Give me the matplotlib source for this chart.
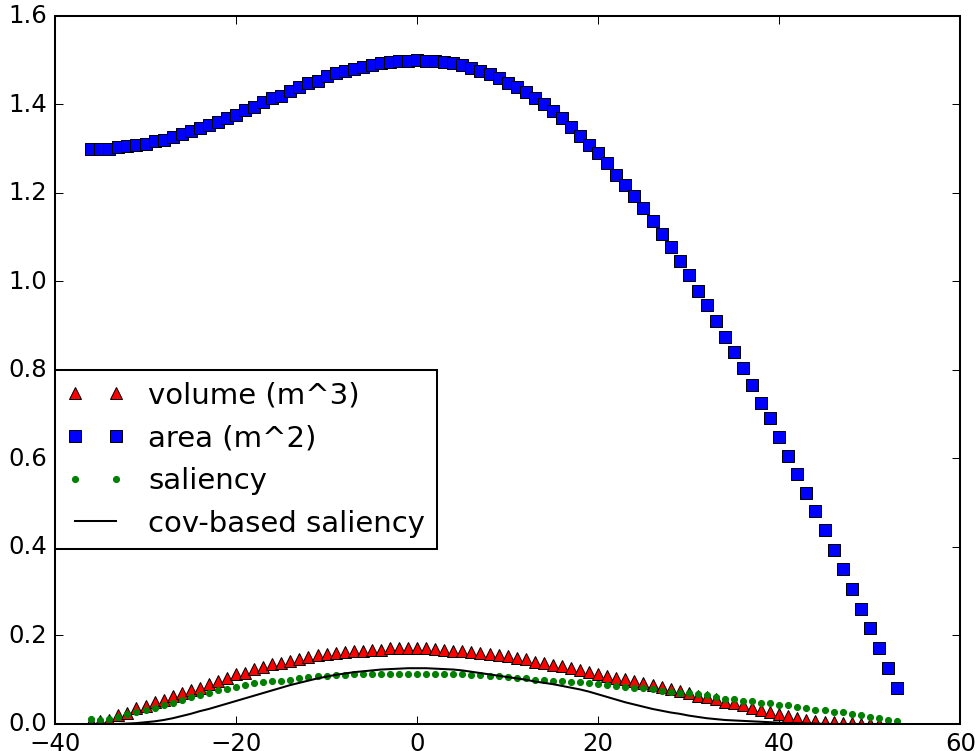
import matplotlib
matplotlib.use("Agg")
import matplotlib.pyplot as plt
import numpy as np

plt.style.use("classic")

x = list(range(-36, 54))

volume = [0.004, 0.006, 0.010, 0.020, 0.025, 0.035, 0.041, 0.050, 0.055, 0.064,
          0.070, 0.076, 0.082, 0.091, 0.097, 0.103, 0.112, 0.116, 0.124, 0.128,
          0.135, 0.138, 0.142, 0.147, 0.152, 0.156, 0.159, 0.161, 0.163, 0.165,
          0.166, 0.168, 0.168, 0.172, 0.172, 0.172, 0.172, 0.172, 0.169, 0.168,
          0.166, 0.165, 0.163, 0.161, 0.159, 0.156, 0.153, 0.150, 0.146, 0.140,
          0.138, 0.134, 0.130, 0.127, 0.121, 0.118, 0.114, 0.109, 0.105, 0.101,
          0.097, 0.093, 0.088, 0.084, 0.078, 0.074, 0.069, 0.063, 0.060, 0.056,
          0.050, 0.047, 0.043, 0.037, 0.032, 0.027, 0.022, 0.017, 0.013, 0.010,
          0.007, 0.005, 0.004, 0.003, 0.002, 0.001, 0.001, 0.000, 0.000, 0.000]

area = [1.300, 1.300, 1.300, 1.303, 1.305, 1.307, 1.311, 1.316, 1.320, 1.326,
        1.333, 1.339, 1.346, 1.352, 1.361, 1.369, 1.376, 1.388, 1.394, 1.404,
        1.414, 1.419, 1.431, 1.440, 1.448, 1.453, 1.463, 1.470, 1.476, 1.479,
        1.485, 1.489, 1.494, 1.495, 1.497, 1.497, 1.501, 1.498, 1.497, 1.496,
        1.493, 1.488, 1.482, 1.476, 1.469, 1.459, 1.449, 1.439, 1.427, 1.413,
        1.400, 1.384, 1.368, 1.348, 1.329, 1.308, 1.290, 1.267, 1.241, 1.218,
        1.192, 1.165, 1.137, 1.107, 1.077, 1.045, 1.015, 0.979, 0.947, 0.911,
        0.875, 0.840, 0.804, 0.765, 0.725, 0.691, 0.649, 0.606, 0.565, 0.522,
        0.481, 0.438, 0.393, 0.350, 0.305, 0.260, 0.217, 0.172, 0.127, 0.081]

saliency = [0.011, 0.009, 0.012, 0.016, 0.022, 0.027, 0.032, 0.037, 0.043, 0.048,
            0.054, 0.060, 0.066, 0.071, 0.076, 0.078, 0.084, 0.088, 0.092, 0.095,
            0.097, 0.097, 0.100, 0.103, 0.107, 0.109, 0.109, 0.110, 0.111, 0.112,
            0.112, 0.113, 0.114, 0.114, 0.114, 0.114, 0.114, 0.114, 0.114, 0.114,
            0.113, 0.112, 0.111, 0.110, 0.109, 0.108, 0.107, 0.105, 0.103, 0.100,
            0.099, 0.097, 0.096, 0.094, 0.094, 0.092, 0.090, 0.088, 0.086, 0.084,
            0.081, 0.081, 0.078, 0.075, 0.073, 0.071, 0.069, 0.067, 0.066, 0.061,
            0.057, 0.056, 0.053, 0.051, 0.048, 0.047, 0.044, 0.042, 0.038, 0.035,
            0.032, 0.031, 0.028, 0.026, 0.022, 0.020, 0.016, 0.013, 0.009, 0.007]

cov_saliency = [0.000, 0.000, 0.000, 0.000, 0.001, 0.002, 0.004, 0.006, 0.009, 0.013,
                0.018, 0.023, 0.029, 0.034, 0.040, 0.046, 0.052, 0.058, 0.064, 0.070,
                0.076, 0.082, 0.088, 0.093, 0.098, 0.103, 0.107, 0.111, 0.114, 0.117,
                0.119, 0.121, 0.123, 0.124, 0.125, 0.126, 0.126, 0.126, 0.125, 0.124,
                0.123, 0.121, 0.118, 0.115, 0.112, 0.109, 0.106, 0.103, 0.100, 0.096,
                0.093, 0.090, 0.086, 0.082, 0.078, 0.073, 0.067, 0.061, 0.055, 0.049,
                0.044, 0.039, 0.034, 0.030, 0.026, 0.023, 0.019, 0.016, 0.013, 0.011,
                0.009, 0.008, 0.007, 0.006, 0.005, 0.004, 0.003, 0.002, 0.002, 0.001,
                0.001, 0.000, 0.000, 0.000, 0.000, 0.000, 0.000, 0.000, 0.000, 0.000]

DPI = 146
fig = plt.figure(figsize=(975.3 / DPI, 751.3 / DPI), dpi=DPI)
ax = fig.add_axes([55 / 975, 27 / 751, 905 / 975, 708 / 751])

ax.plot(x, volume, "r^", label="volume (m^3)")
ax.plot(x, area, "bs", label="area (m^2)")
ax.plot(x, saliency, "g.", label="saliency")
ax.plot(x, cov_saliency, "k-", label="cov-based saliency")

ax.set_xlim(-40, 60)
ax.set_ylim(0, 1.6)
ax.set_xticks([-40, -20, 0, 20, 40, 60])
ax.set_yticks([0.0, 0.2, 0.4, 0.6, 0.8, 1.0, 1.2, 1.4, 1.6])

ax.legend(loc="upper left", bbox_to_anchor=(0, 0.5), borderaxespad=0)

fig.savefig("out.png", dpi=DPI)
